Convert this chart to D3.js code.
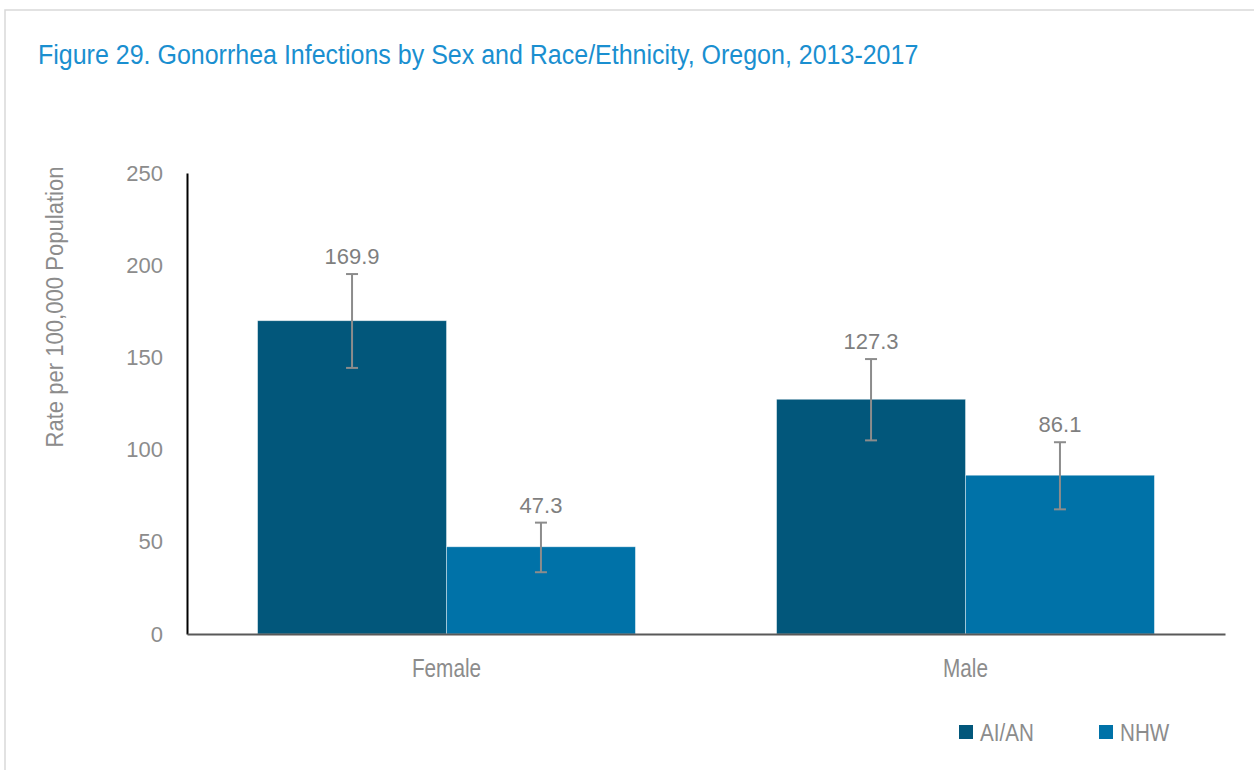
<!DOCTYPE html>
<html><head><meta charset="utf-8">
<script src="https://cdn.jsdelivr.net/npm/d3@7"></script>
<style>body{margin:0;background:#fff;} svg{display:block;}</style>
</head><body>
<svg id="chart" width="1254" height="770"></svg>
<script>
const title = "Figure 29. Gonorrhea Infections by Sex and Race/Ethnicity, Oregon, 2013-2017";
const yAxisTitle = "Rate per 100,000 Population";
const categories = ["Female", "Male"];
const seriesNames = ["AI/AN", "NHW"];
const aianValues = [169.9, 127.3];
const nhwValues = [47.3, 86.1];
const aianLow = [144.3, 105.0];
const aianHigh = [195.2, 149.1];
const nhwLow = [33.5, 67.6];
const nhwHigh = [60.4, 104.0];
const yTicks = [0, 50, 100, 150, 200, 250];
const colors = ["#02577b", "#0072a8"];

(function () {
const svg = d3.select("#chart");
const sans = "'Liberation Sans',Arial,sans-serif";

// frame
svg.append("rect").attr("x", 5).attr("y", 10).attr("width", 1260).attr("height", 770)
  .attr("fill", "none").attr("stroke", "#d9d9d9").attr("stroke-width", 1.5);

// title (condensed look via horizontal scale)
svg.append("g").attr("transform", "translate(38,64) scale(0.893,1)")
  .append("text").text(title)
  .attr("font-family", sans).attr("font-size", 28).attr("fill", "#1a8fd0");

const pLeft = 187, pRight = 1225, pTop = 173, pBottom = 634;
const y = d3.scaleLinear().domain([0, 250]).range([pBottom, pTop]);
const x0 = d3.scaleBand().domain(categories).range([pLeft, pRight]).paddingInner(0.272).paddingOuter(0.136);
const x1 = d3.scaleBand().domain(seriesNames).range([0, x0.bandwidth()]);

const data = categories.map((c, i) => ({
  cat: c,
  items: [
    {s: seriesNames[0], v: aianValues[i], lo: aianLow[i], hi: aianHigh[i], c: colors[0]},
    {s: seriesNames[1], v: nhwValues[i], lo: nhwLow[i], hi: nhwHigh[i], c: colors[1]}
  ]
}));

// y axis ticks
const yAxis = d3.axisLeft(y).tickValues(yTicks).tickSize(0).tickPadding(24);
const gy = svg.append("g").attr("transform", `translate(${pLeft},0)`).call(yAxis);
gy.select(".domain").attr("stroke", "#000").attr("stroke-width", 2);
gy.selectAll("text").attr("font-family", sans).attr("font-size", 22).attr("fill", "#8c8c8c");

svg.append("text").attr("transform", `translate(63,307) rotate(-90) scale(0.92,1)`).attr("text-anchor", "middle")
  .text(yAxisTitle).attr("font-family", sans).attr("font-size", 24).attr("fill", "#8c8c8c");

// bars
const groups = svg.append("g").selectAll("g").data(data).join("g")
  .attr("transform", d => `translate(${x0(d.cat)},0)`);
groups.selectAll("rect").data(d => d.items).join("rect")
  .attr("x", d => x1(d.s)).attr("width", x1.bandwidth())
  .attr("y", d => y(d.v)).attr("height", d => y(0) - y(d.v))
  .attr("fill", d => d.c).attr("stroke", "#ffffff").attr("stroke-opacity", 0.5).attr("stroke-width", 0.8);

// error bars
const eb = groups.selectAll("g.err").data(d => d.items).join("g").attr("class", "err")
  .attr("transform", d => `translate(${x1(d.s) + x1.bandwidth() / 2},0)`);
eb.append("line").attr("x1", 0).attr("x2", 0).attr("y1", d => y(d.lo)).attr("y2", d => y(d.hi))
  .attr("stroke", "#8c8c8c").attr("stroke-width", 2);
eb.append("line").attr("x1", -6).attr("x2", 6).attr("y1", d => y(d.lo)).attr("y2", d => y(d.lo))
  .attr("stroke", "#8c8c8c").attr("stroke-width", 2);
eb.append("line").attr("x1", -6).attr("x2", 6).attr("y1", d => y(d.hi)).attr("y2", d => y(d.hi))
  .attr("stroke", "#8c8c8c").attr("stroke-width", 2);
eb.append("text").attr("text-anchor", "middle").attr("y", d => y(d.hi) - 10)
  .text(d => d.v.toFixed(1)).attr("font-family", sans).attr("font-size", 22).attr("fill", "#7f7f7f");

// x axis
const xAxis = d3.axisBottom(x0).tickSize(0).tickPadding(25);
const gx = svg.append("g").attr("transform", `translate(0,${pBottom})`).call(xAxis);
gx.select(".domain").attr("stroke", "#595959").attr("stroke-width", 2);
gx.selectAll("text").attr("font-family", sans).attr("font-size", 25).attr("fill", "#8c8c8c")
  .attr("transform", "scale(0.83,1)");

// legend
const legX = [959, 1099];
const leg = svg.append("g").selectAll("g").data(seriesNames).join("g")
  .attr("transform", (d, i) => `translate(${legX[i]},725)`);
leg.append("rect").attr("width", 14).attr("height", 14).attr("fill", (d, i) => colors[i]);
leg.append("text").attr("transform", "translate(21,15.5) scale(0.86,1)").text(d => d)
  .attr("font-family", sans).attr("font-size", 24).attr("fill", "#8c8c8c");
})();
</script>
</body></html>
